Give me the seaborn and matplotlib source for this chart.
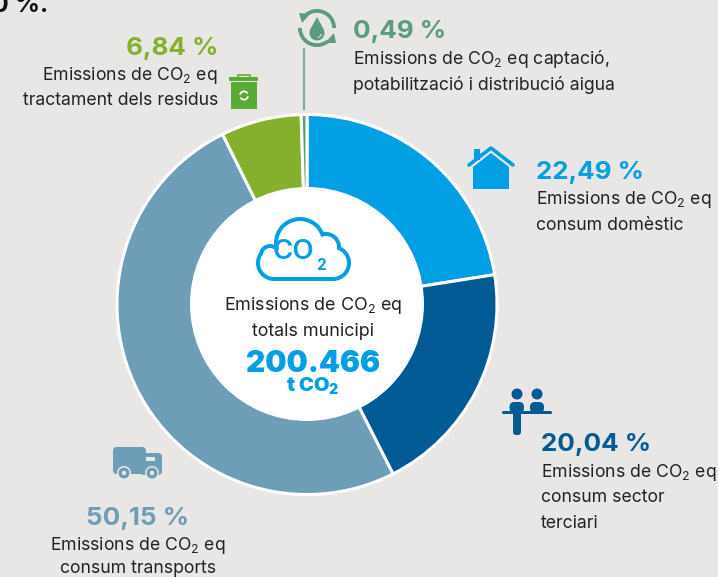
import numpy as np
import matplotlib
matplotlib.use("Agg")
import matplotlib.pyplot as plt
from matplotlib.patches import Circle, Rectangle, Polygon, FancyBboxPatch, Wedge
import seaborn as sns

# dades del grafic
sectors = ["consum domèstic", "consum sector terciari", "consum transports",
           "tractament dels residus", "captació aigua"]
values = [22.49, 20.04, 50.15, 6.84, 0.49]
value_labels = ["22,49 %", "20,04 %", "50,15 %", "6,84 %", "0,49 %"]
colors = ["#009FE3", "#005A94", "#6E9DB8", "#85B02D", "#5A9C7B"]
total_label = "200.466"

BG = "#E8E7E5"
TXT = "#222222"
W, H = 718, 577

sns.set_theme(style="white")
plt.rcParams["font.family"] = ["Inter", "DejaVu Sans"]
plt.rcParams["mathtext.default"] = "regular"

fig = plt.figure(figsize=(W / 100, H / 100), dpi=100, facecolor=BG)
ax = fig.add_axes([0, 0, 1, 1])


def Y(py):
    # coordenades de pixel de dalt a baix
    return H - py


def label(x, py, s, size=12.7, color=TXT, weight="normal", ha="left"):
    ax.text(x, Y(py), s, fontsize=size, color=color, fontweight=weight, ha=ha, va="baseline", zorder=6)


def box(x0, py0, x1, py1, r, color, z=2):
    ax.add_patch(FancyBboxPatch((x0, Y(py1)), x1 - x0, py1 - py0,
                                boxstyle=f"round,pad=0,rounding_size={r}", fc=color, ec="none", zorder=z))


# donut
ax.pie(values, colors=sns.color_palette(colors), startangle=90, counterclock=False,
       center=(307, Y(304.5)), radius=190, frame=True,
       wedgeprops=dict(edgecolor="white", linewidth=2.2))
ax.add_patch(Circle((307, Y(304)), 117, fc="white", ec="none", zorder=3))
ax.set_xlim(0, W)
ax.set_ylim(0, H)
ax.set_aspect("equal")
ax.axis("off")

CO2 = "CO$_2$"

# text central
label(313, 310, f"Emissions de {CO2} eq", size=12.9, ha="center")
label(313, 336, "totals municipi", size=12.9, ha="center")
label(313, 372, total_label, size=21.5, color=colors[0], weight="black", ha="center")
label(313, 392, f"t {CO2}", size=14.5, color=colors[0], weight="black", ha="center")

# etiquetes
label(536, 179, value_labels[0], size=18.7, color=colors[0], weight="bold")
label(536, 204, f"Emissions de {CO2} eq")
label(536, 230, "consum domèstic")

label(541, 451, value_labels[1], size=18.7, color=colors[1], weight="bold")
label(541, 477, f"Emissions de {CO2} eq")
label(541, 502, "consum sector")
label(541, 528, "terciari")

label(138, 525, value_labels[2], size=18.7, color=colors[2], weight="bold", ha="center")
label(138, 549.5, f"Emissions de {CO2} eq", ha="center")
label(138, 573, "consum transports", ha="center")

label(218, 55, value_labels[3], size=18.7, color=colors[3], weight="bold", ha="right")
label(218, 80, f"Emissions de {CO2} eq", ha="right")
label(218, 105, "tractament dels residus", ha="right")

label(353, 38, value_labels[4], size=18.7, color=colors[4], weight="bold")
label(353, 64, f"Emissions de {CO2} eq captació,")
label(353, 90, "potabilització i distribució aigua")

# tros de text tallat a dalt
label(-8, 12.5, "0 %.", size=18, color="#111111", weight="bold")

# linia i icona aigua
ax.plot([304, 304], [Y(48), Y(110)], color="#7FB29A", lw=1.6, solid_capstyle="butt")
cx, cy = 317, Y(28)
ax.add_patch(Wedge((cx, cy), 19, 0, 130, width=3.8, fc=colors[4], ec="none"))
ax.add_patch(Wedge((cx, cy), 19, 180, 310, width=3.8, fc=colors[4], ec="none"))
ax.add_patch(Polygon([[cx - 18, cy + 15], [cx - 7, cy + 14], [cx - 15, cy + 5]], fc=colors[4], ec="none"))
ax.add_patch(Polygon([[cx + 19, cy - 15], [cx + 8, cy - 15], [cx + 17, cy - 5]], fc=colors[4], ec="none"))
ax.add_patch(Circle((cx, cy - 5), 7.5, fc=colors[4], ec="none"))
ax.add_patch(Polygon([[cx - 7, cy - 2], [cx, cy + 11], [cx + 7, cy - 2]], fc=colors[4], ec="none"))
ax.add_patch(Wedge((cx, cy - 5), 5, 280, 350, width=1, fc=BG, ec="none", zorder=3))

# paperera
green = "#5BA936"
ax.add_patch(Rectangle((231, Y(109)), 26, 27, fc=green, ec="none"))
box(229, 77, 258, 81, 1, green)
ax.add_patch(Rectangle((238, Y(77.5)), 12, 3, fc="none", ec=green, lw=1.2))
ax.add_patch(Wedge((244, Y(95.5)), 5, 30, 170, width=1.8, fc="white", ec="none", zorder=3))
ax.add_patch(Wedge((244, Y(95.5)), 5, 210, 350, width=1.8, fc="white", ec="none", zorder=3))

# casa
hc = colors[0]
ax.add_patch(Polygon([[473, Y(189)], [473, Y(167)], [491, Y(153)], [509, Y(167)], [509, Y(189)]], fc=hc, ec="none"))
ax.add_patch(Rectangle((474, Y(160)), 6, 11, fc=hc, ec="none"))
ax.plot([469, 491, 513], [Y(165), Y(148), Y(165)], color=hc, lw=2.6, solid_capstyle="round")

# persones
pc = colors[1]
for px, (x0, x1) in zip((517, 537), ((509.5, 524), (530, 544))):
    ax.add_patch(Circle((px, Y(394)), 5.5, fc=pc, ec="none"))
    box(x0, 402, x1, 413, 5, pc)
box(513, 411, 521, 435, 3, pc)
box(502, 411, 552, 414, 1.5, pc)

# furgoneta
tc = colors[2]
box(113, 447, 146, 474, 4, tc)
box(140, 453, 162, 475, 4, tc)
ax.add_patch(Rectangle((146, Y(461)), 9, 4, fc=BG, ec="none", zorder=3))
for wx in (124, 152):
    ax.add_patch(Circle((wx, Y(473)), 7, fc=BG, ec="none", zorder=3))
    ax.add_patch(Circle((wx, Y(473)), 5.5, fc=tc, ec="none", zorder=3))
    ax.add_patch(Circle((wx, Y(473)), 2.2, fc=BG, ec="none", zorder=3))

# nuvol
nb = colors[0]
parts = [(274, 263, 18), (300, 243, 26), (326, 247, 15), (333, 263, 18), (270, 255, 11)]
for x, y, r in parts:
    ax.add_patch(Circle((x, Y(y)), r, fc=nb, ec="none", zorder=4))
ax.add_patch(Rectangle((274, Y(281)), 60, 18, fc=nb, ec="none", zorder=4))
for x, y, r in parts:
    ax.add_patch(Circle((x, Y(y)), r - 4, fc="white", ec="none", zorder=4.1))
ax.add_patch(Rectangle((274, Y(277)), 60, 18, fc="white", ec="none", zorder=4.1))
ax.add_patch(Rectangle((280, Y(262)), 50, 20, fc="white", ec="none", zorder=4.1))
label(314, 259, "CO", size=20, color=nb, weight="semibold", ha="right")
label(316, 270.5, "2", size=11, color=nb, weight="bold")

fig.savefig("out.png", dpi=100, facecolor=BG)
